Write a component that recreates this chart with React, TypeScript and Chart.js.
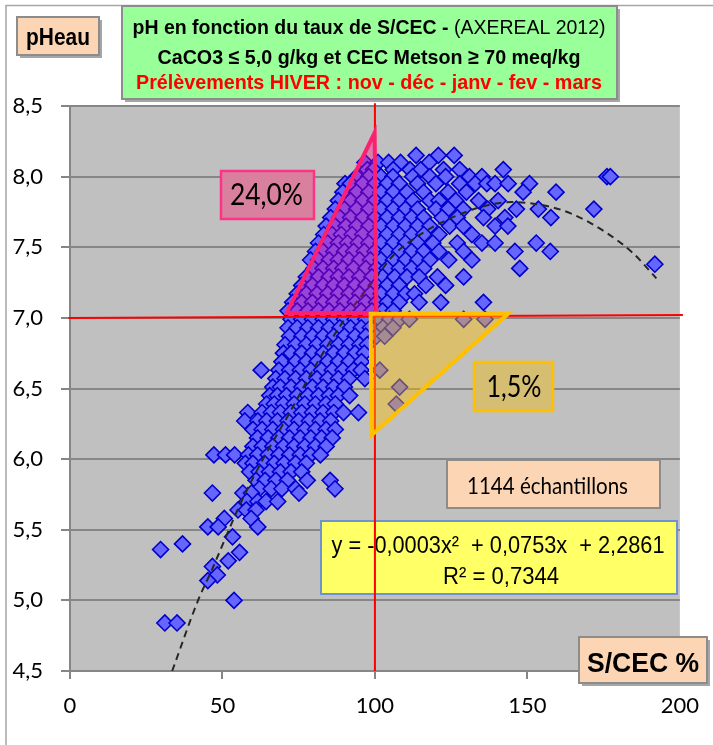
import React, { useEffect, useRef } from 'react';
import { Chart, registerables } from 'chart.js';

Chart.register(...registerables);

// ---------- axis ----------
const xTickValues = [0, 50, 100, 150, 200];
const yTickValues = [4.5, 5.0, 5.5, 6.0, 6.5, 7.0, 7.5, 8.0, 8.5];

// ---------- scatter data: rows of [pHeau, S/CEC values] ----------
const pointRows: [number, number[]][] = [
  [8.15, [113.5, 120.8, 126]],
  [8.10, [96.7, 101, 104.5, 108.4, 117.8]],
  [8.05, [97.5, 99.5, 106, 111.5, 115, 122.5, 127.8, 142.1]],
  [8.00, [94, 98, 102, 105.9, 112.4, 118, 123.2, 131, 135.1, 176.1, 177.2]],
  [7.95, [90.2, 92, 96, 100, 104, 108, 114, 120, 127.8, 132.9, 136.7, 139.4, 143.7, 150.7]],
  [7.89, [89.5, 94, 98, 102, 106, 110.5, 116, 124, 130, 148.6, 159.4]],
  [7.83, [88, 92, 96, 100, 104, 108, 112.5, 118, 121, 126.5, 134, 140.4]],
  [7.77, [87, 90, 94, 98, 102, 106, 110, 114, 120, 124, 129, 137, 146.4, 153.6, 171.8]],
  [7.71, [85.5, 88.5, 92, 96, 100, 104, 108, 112, 116, 122, 127, 135.6, 142.6, 157.7]],
  [7.65, [84, 87, 90.5, 94, 98, 102, 106, 110, 114, 118, 124.5, 129, 139.4, 143.6]],
  [7.59, [83.2, 86, 89, 92.5, 96, 100, 104, 108, 112, 116, 121, 131.8]],
  [7.53, [81.5, 84.5, 88, 91, 94.5, 98, 102, 106, 110, 114, 119, 127, 135.1, 139.4, 152.9]],
  [7.47, [80.5, 83, 86.5, 90, 93, 96.5, 100, 104, 108, 112, 116, 121, 129.1, 145.9, 157.5]],
  [7.41, [78.9, 81.5, 85, 88, 91.5, 95, 98.5, 102, 106, 110, 114, 118, 124.2, 131.8]],
  [7.38, [191.8]],
  [7.35, [80, 83, 86.5, 89.5, 93, 97, 100.5, 104, 108, 112, 116, 147.5]],
  [7.29, [77.5, 81.5, 85, 88, 91.5, 95, 99, 102.5, 106.5, 110.5, 114.5, 120.5, 129.1]],
  [7.23, [76, 79.5, 83, 86.5, 90, 93.5, 97, 100.5, 104, 108, 116.7, 123.2]],
  [7.17, [74.5, 77.5, 81, 84.5, 88, 91.5, 95, 98.5, 102, 106, 110, 113]],
  [7.11, [73, 76, 79.5, 83, 86.5, 90, 93.5, 97, 100.5, 104, 108, 114.5, 121.6, 135.6]],
  [7.05, [71.5, 74.5, 78, 81.5, 85, 88.5, 92, 95.5, 99, 102.5, 106]],
  [6.99, [72.5, 76, 79.5, 83, 86.5, 90, 93.5, 97, 101.6, 104.8, 108.1, 111.3, 129.1, 136.1]],
  [6.93, [71.5, 74.5, 78, 81.5, 85, 88.5, 92, 95.5, 98.5, 102.6, 105.9]],
  [6.87, [72, 76, 79.5, 83, 86.5, 90, 93.5, 97, 100.5, 103.2]],
  [6.81, [70.5, 74, 77.5, 81, 84.5, 88, 91.5, 95, 97.5]],
  [6.75, [70, 72.5, 76, 79.5, 83, 86.5, 90, 93.5, 96.5]],
  [6.69, [69.5, 74, 77.5, 81, 84.5, 88, 91.5, 95.6]],
  [6.63, [62.7, 68.5, 72, 75.5, 79, 82.5, 86, 89.5, 93, 95.5, 101.6]],
  [6.57, [67.5, 70.5, 74, 77.5, 81, 84.5, 88, 91.5, 96.7]],
  [6.51, [66.5, 69, 72.5, 76, 79.5, 83, 86.5, 90, 108.1]],
  [6.45, [65.5, 68, 71, 74.5, 78, 81.5, 85, 88, 91.7]],
  [6.39, [64.5, 67, 70, 73.5, 77, 80.5, 84, 87, 107]],
  [6.33, [58.3, 63, 66, 69, 72.5, 76, 79.5, 83, 86.5, 89.7, 94.6]],
  [6.27, [57.3, 61.6, 64.5, 68, 71.5, 75, 78.5, 82, 85.5]],
  [6.21, [60, 63, 66.5, 70, 73.5, 77, 80.5, 84, 87]],
  [6.15, [61.5, 65, 68.5, 72, 75.5, 79, 82.5, 86]],
  [6.09, [60, 63, 66.5, 70, 73.5, 77, 80.5, 84]],
  [6.03, [47.2, 51, 54, 58.5, 61.5, 65, 68.5, 72, 75.5, 78.9, 82.1]],
  [5.97, [57.5, 60, 63.8, 67, 70.2, 74, 77.5]],
  [5.91, [58.9, 62, 65.4, 69, 72.5, 76]],
  [5.85, [61, 64, 67.5, 71.3, 77.8, 85.3]],
  [5.79, [62.1, 66, 69.5, 74, 86.9]],
  [5.76, [46.7, 56.7, 59.5, 75.1]],
  [5.70, [58, 61.6, 64.3, 68.1]],
  [5.64, [55.1, 57.8, 61]],
  [5.58, [50.6, 59.4]],
  [5.52, [45.2, 48.6, 61.6]],
  [5.45, [53.3]],
  [5.40, [36.9]],
  [5.36, [29.7]],
  [5.34, [55.6]],
  [5.28, [51.9]],
  [5.24, [46.7]],
  [5.18, [48.3]],
  [5.14, [45.2]],
  [5.00, [53.8]],
  [4.84, [31.1, 35.1]],
];

// ---------- polynomial trendline ----------
const trendX = [33.5, 42, 46.4, 56.2, 63.8, 71.3, 81, 89.7, 92.9, 100.5, 105.9, 115.6, 124.3, 135.6, 145, 154.5, 164.2, 176.1, 184.8, 192.3];
const trendY = [4.5, 5.0, 5.21, 5.7, 6.02, 6.3, 6.68, 6.98, 7.08, 7.29, 7.44, 7.6, 7.7, 7.79, 7.82, 7.8, 7.74, 7.6, 7.455, 7.28];

// ---------- annotation geometry (data units) ----------
const pinkTriX = [71.1, 99.9, 100.5];
const pinkTriY = [7.035, 8.31, 7.035];
const orangeTriX = [98.6, 143.7, 98.9];
const orangeTriY = [7.03, 7.03, 6.17];

type Part = { t: string; font: string; color: string };

function fitText(ctx: CanvasRenderingContext2D, parts: Part[], cx: number, baseY: number, width: number) {
  let total = 0;
  const ws = parts.map((p) => {
    ctx.font = p.font;
    const w = ctx.measureText(p.t).width;
    total += w;
    return w;
  });
  const sx = width / total;
  ctx.save();
  ctx.translate(cx - width / 2, baseY);
  ctx.scale(sx, 1);
  ctx.textAlign = 'left';
  ctx.textBaseline = 'alphabetic';
  let x = 0;
  parts.forEach((p, i) => {
    ctx.font = p.font;
    ctx.fillStyle = p.color;
    ctx.fillText(p.t, x, 0);
    x += ws[i];
  });
  ctx.restore();
}

function box(ctx: CanvasRenderingContext2D, x1: number, y1: number, x2: number, y2: number, fill: string, stroke: string, lw: number, shadow = false) {
  if (shadow) {
    ctx.fillStyle = 'rgba(0,0,0,0.35)';
    ctx.fillRect(x1 + 3, y1 + 3, x2 - x1, y2 - y1);
  }
  ctx.fillStyle = fill;
  ctx.fillRect(x1, y1, x2 - x1, y2 - y1);
  ctx.strokeStyle = stroke;
  ctx.lineWidth = lw;
  ctx.strokeRect(x1, y1, x2 - x1, y2 - y1);
}

const NARROW_B = (s: number) => `bold ${s}px "Liberation Sans", Arial, sans-serif`;
const NARROW = (s: number) => `${s}px "Liberation Sans", Arial, sans-serif`;
const CAL = (s: number) => `${s}px Lato, "Open Sans", sans-serif`;

const overlayPlugin = {
  id: 'overlay',
  beforeDraw(chart: any) {
    const { ctx, chartArea: a } = chart;
    ctx.save();
    ctx.fillStyle = '#ffffff';
    ctx.fillRect(0, 0, chart.width, chart.height);
    ctx.fillStyle = '#c0c0c0';
    ctx.fillRect(a.left, a.top, a.right - a.left, a.bottom - a.top);
    ctx.strokeStyle = '#a6a6a6';
    ctx.lineWidth = 1.5;
    ctx.strokeRect(6, 5.5, 900, 900);
    ctx.restore();
  },
  afterDatasetsDraw(chart: any) {
    const { ctx } = chart;
    const xs = chart.scales.x;
    const ys = chart.scales.y;
    const px = (v: number) => xs.getPixelForValue(v);
    const py = (v: number) => ys.getPixelForValue(v);
    ctx.save();

    // text boxes
    box(ctx, 17, 17, 99, 55, '#fcd5b5', '#8c8c8c', 2, true);
    fitText(ctx, [{ t: 'pHeau', font: NARROW_B(24), color: '#000' }], 58, 45, 64);

    box(ctx, 122, 6, 617, 99, '#99ff99', '#8c8c8c', 2, true);
    fitText(ctx, [
      { t: 'pH en fonction du taux de S/CEC - ', font: NARROW_B(21), color: '#000' },
      { t: '(AXEREAL 2012)', font: NARROW(21), color: '#000' },
    ], 369, 34, 473);
    fitText(ctx, [{ t: 'CaCO3 \u2264 5,0 g/kg et CEC Metson \u2265 70 meq/kg', font: NARROW_B(21), color: '#000' }], 369, 64, 423);
    fitText(ctx, [{ t: 'Pr\u00e9l\u00e8vements HIVER : nov - d\u00e9c - janv - fev - mars', font: NARROW_B(21), color: '#ff0000' }], 369, 89, 466);

    box(ctx, 447, 460, 660, 508, '#fcd5b5', '#8c8c8c', 2);
    fitText(ctx, [{ t: '1144 \u00e9chantillons', font: CAL(23), color: '#000' }], 547.5, 494, 161);

    box(ctx, 321, 521, 677, 594, '#ffff66', '#6f93cf', 2);
    fitText(ctx, [{ t: 'y = -0,0003x\u00b2  + 0,0753x  + 2,2861', font: NARROW(24), color: '#000' }], 498, 553, 333);
    fitText(ctx, [{ t: 'R\u00b2 = 0,7344', font: NARROW(24), color: '#000' }], 501, 584, 116);

    box(ctx, 579, 637, 707, 683, '#fcd5b5', '#8c8c8c', 2, true);
    fitText(ctx, [{ t: 'S/CEC %', font: NARROW_B(27), color: '#000' }], 643, 672, 112);

    // red reference lines
    ctx.strokeStyle = '#ff0000';
    ctx.lineWidth = 2;
    ctx.beginPath();
    ctx.moveTo(px(-0.5), py(7.0));
    ctx.lineTo(px(201), py(7.02));
    ctx.moveTo(px(100), py(4.5));
    ctx.lineTo(px(100), py(8.52));
    ctx.stroke();

    // triangles
    const tri = (tx: number[], ty: number[], fill: string, stroke: string) => {
      ctx.beginPath();
      ctx.moveTo(px(tx[0]), py(ty[0]));
      ctx.lineTo(px(tx[1]), py(ty[1]));
      ctx.lineTo(px(tx[2]), py(ty[2]));
      ctx.closePath();
      ctx.fillStyle = fill;
      ctx.fill();
      ctx.lineJoin = 'miter';
      ctx.lineWidth = 4;
      ctx.strokeStyle = stroke;
      ctx.stroke();
    };
    tri(pinkTriX, pinkTriY, 'rgba(255,0,140,0.33)', '#ff1f70');
    tri(orangeTriX, orangeTriY, 'rgba(255,190,0,0.42)', '#ffc000');

    box(ctx, 221, 171, 314, 219, '#d9809f', '#ff3385', 2.5);
    fitText(ctx, [{ t: '24,0%', font: CAL(30), color: '#000' }], 266.5, 205, 73);
    box(ctx, 474, 362, 553, 411, '#d5bd72', '#ffc000', 2.5);
    fitText(ctx, [{ t: '1,5%', font: CAL(30), color: '#000' }], 514, 397, 55);

    ctx.restore();
  },
};

export default function App() {
  const ref = useRef<HTMLCanvasElement | null>(null);

  useEffect(() => {
    if (!ref.current) return;
    const scatter = pointRows.flatMap(([y, xs]) => xs.map((x) => ({ x, y })));
    const trend = trendX.map((x, i) => ({ x, y: trendY[i] }));
    const fmt = (v: number) => v.toFixed(1).replace('.', ',');

    const chart = new Chart(ref.current, {
      type: 'scatter',
      data: {
        datasets: [
          {
            type: 'line',
            data: trend,
            borderColor: '#262626',
            borderWidth: 2,
            borderDash: [7, 5],
            pointRadius: 0,
            fill: false,
            cubicInterpolationMode: 'monotone',
            order: 0,
          } as any,
          {
            type: 'scatter',
            data: scatter,
            pointStyle: 'rectRot',
            pointRadius: 8,
            backgroundColor: '#6666ff',
            borderColor: '#0000cc',
            borderWidth: 1.6,
            order: 1,
          } as any,
        ],
      },
      options: {
        responsive: false,
        animation: false,
        devicePixelRatio: 1,
        events: [],
        layout: { padding: { left: 0, top: 106, right: 26, bottom: 0 } },
        plugins: { legend: { display: false }, tooltip: { enabled: false }, title: { display: false } },
        scales: {
          x: {
            type: 'linear',
            min: 0,
            max: 200,
            afterBuildTicks: (s: any) => { s.ticks = xTickValues.map((v) => ({ value: v })); },
            afterFit: (s: any) => { s.height = 74; },
            grid: { display: true, drawOnChartArea: false, drawTicks: true, tickLength: 8, color: '#868686', lineWidth: 2 },
            border: { display: true, color: '#868686', width: 2 },
            ticks: { color: '#000', font: { family: 'Lato', size: 22 }, padding: 14, maxRotation: 0, autoSkip: false },
          },
          y: {
            type: 'linear',
            min: 4.5,
            max: 8.5,
            afterBuildTicks: (s: any) => { s.ticks = yTickValues.map((v) => ({ value: v })); },
            afterFit: (s: any) => { s.width = 70; },
            grid: { color: '#868686', lineWidth: 2, tickLength: 9 },
            border: { display: true, color: '#868686', width: 2 },
            ticks: { color: '#000', font: { family: 'Lato', size: 22 }, padding: 18, callback: (v: any) => fmt(Number(v)) },
          },
        },
      },
      plugins: [overlayPlugin],
    } as any);
    return () => chart.destroy();
  }, []);

  return (
    <div style={{ position: 'absolute', left: 0, top: 0, width: 713, height: 745 }}>
      <canvas ref={ref} width={713} height={745} style={{ display: 'block', width: 713, height: 745 }} />
    </div>
  );
}
